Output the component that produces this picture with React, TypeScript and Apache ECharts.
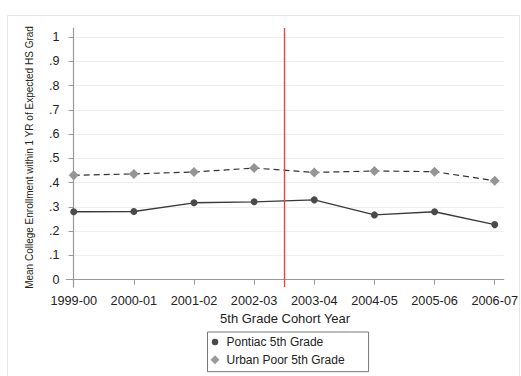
import React, { useEffect, useRef } from "react";
import * as echarts from "echarts";

const categories = ["1999-00", "2000-01", "2001-02", "2002-03", "2003-04", "2004-05", "2005-06", "2006-07"];
const pontiac = [0.280, 0.281, 0.317, 0.321, 0.329, 0.267, 0.280, 0.227];
const urbanPoor = [0.430, 0.436, 0.444, 0.460, 0.442, 0.448, 0.445, 0.408];
const yTicks = [0, 0.1, 0.2, 0.3, 0.4, 0.5, 0.6, 0.7, 0.8, 0.9, 1];
const xTicks = [0, 1, 2, 3, 4, 5, 6, 7];
const cutoff = 3.5;

const FONT = "'Liberation Sans', Arial, Helvetica, sans-serif";

const circleIcon = "path://M0,0 M13,9 M6.5,1.25 A3.25,3.25 0 1 1 6.5,7.75 A3.25,3.25 0 1 1 6.5,1.25 Z";
const diamondIcon = "path://M0,0 M13,9 M6.5,0 L11,4.5 L6.5,9 L2,4.5 Z";

export default function App() {
  const ref = useRef<HTMLDivElement>(null);
  useEffect(() => {
    if (!ref.current) return;
    const chart = echarts.init(ref.current, undefined, { renderer: "svg" });
    const fmtY = (v: number) => {
      const r = Math.round(v * 10) / 10;
      if (r === 0) return "0";
      if (r === 1) return "1";
      return "." + Math.round(r * 10);
    };
    chart.setOption({
      animation: false,
      backgroundColor: "#ffffff",
      textStyle: { fontFamily: FONT },
      graphic: [
        {
          type: "rect",
          shape: { x: 7.5, y: 15.5, width: 512, height: 380 },
          style: { fill: "none", stroke: "#e6e6e6", lineWidth: 1 },
          silent: true,
          z: -10,
        },
      ],
      grid: { left: 66.5, right: 13, top: 28, bottom: 89, containLabel: false },
      xAxis: {
        type: "value",
        min: -0.12,
        max: 7.15,
        name: "5th Grade Cohort Year",
        nameLocation: "middle",
        nameGap: 22,
        nameTextStyle: { fontSize: 13, color: "#222", fontFamily: FONT },
        axisLine: { show: true, lineStyle: { color: "#999", width: 1.2 } },
        axisTick: { show: true, length: 5, lineStyle: { color: "#999" }, customValues: xTicks },
        axisLabel: {
          customValues: xTicks,
          fontSize: 12.7,
          color: "#222",
          margin: 7,
          fontFamily: FONT,
          formatter: (v: number) => categories[Math.round(v)] ?? "",
        },
        splitLine: { show: false },
      },
      yAxis: {
        type: "value",
        min: -0.03,
        max: 1.037,
        name: "Mean College Enrollment within 1 YR of Expected HS Grad",
        nameLocation: "middle",
        nameGap: 32,
        nameRotate: 90,
        nameTextStyle: { fontSize: 10, color: "#222", fontFamily: FONT },
        axisLine: { show: true, lineStyle: { color: "#999", width: 1.2 } },
        axisTick: { show: true, length: 5, lineStyle: { color: "#999" }, customValues: yTicks },
        axisLabel: {
          customValues: yTicks,
          fontSize: 12.5,
          color: "#222",
          margin: 7,
          fontFamily: FONT,
          formatter: fmtY,
        },
        splitLine: { show: true, lineStyle: { color: "#eeeeee", width: 1 } },
      },
      legend: {
        orient: "vertical",
        left: 207.5,
        top: 332,
        borderColor: "#777",
        borderWidth: 1,
        borderRadius: 0,
        padding: [4, 24, 6, 1],
        itemWidth: 13,
        itemHeight: 9,
        itemGap: 5.7,
        textStyle: { fontSize: 12, color: "#222", fontFamily: FONT },
        data: [
          { name: "Pontiac 5th Grade", icon: circleIcon, itemStyle: { color: "#4a4a4a" } },
          { name: "Urban Poor 5th Grade", icon: diamondIcon, itemStyle: { color: "#9a9a9a" } },
        ],
      },
      series: [
        {
          name: "Pontiac 5th Grade",
          type: "line",
          data: pontiac.map((v, i) => [xTicks[i], v]),
          symbol: "circle",
          symbolSize: 7,
          itemStyle: { color: "#4a4a4a" },
          lineStyle: { color: "#3a3a3a", width: 1.3, type: "solid" },
          markLine: {
            silent: true,
            symbol: "none",
            label: { show: false },
            lineStyle: { color: "#f03c3c", width: 1.3, type: "solid" },
            data: [{ xAxis: cutoff }],
          },
          z: 3,
        },
        {
          name: "Urban Poor 5th Grade",
          type: "line",
          data: urbanPoor.map((v, i) => [xTicks[i], v]),
          symbol: "diamond",
          symbolSize: 10,
          itemStyle: { color: "#959595" },
          lineStyle: { color: "#333333", width: 1.2, type: [6, 4] },
          z: 3,
        },
      ],
    });
    return () => chart.dispose();
  }, []);
  return <div ref={ref} style={{ width: 521, height: 376, position: "absolute", left: 0, top: 0 }} />;
}
